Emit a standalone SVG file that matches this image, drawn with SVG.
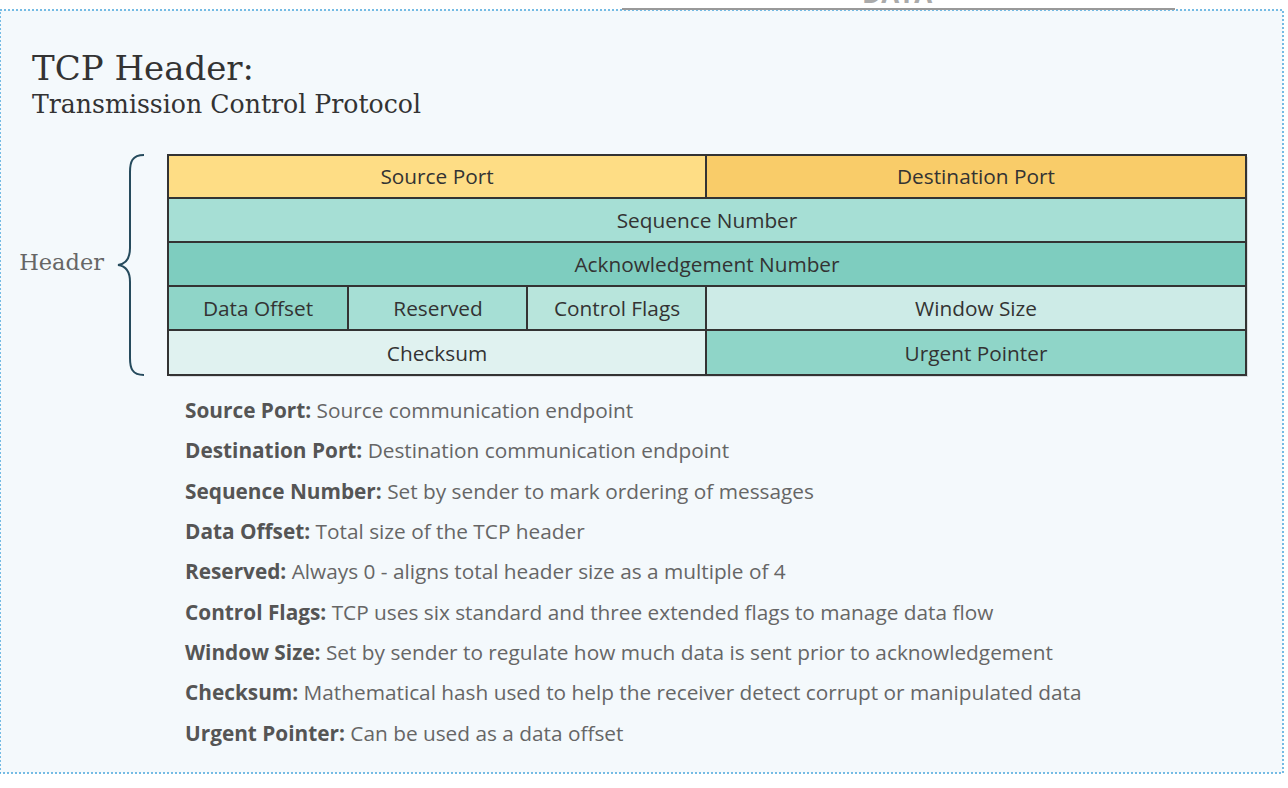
<svg xmlns="http://www.w3.org/2000/svg" width="1288" height="788" viewBox="0 0 1288 788">
<style>
.cell{stroke:#333;stroke-width:2}
.ct{font-family:"Open Sans","Noto Sans",sans-serif;font-size:20.8px;fill:#333;text-anchor:middle}
.d{font-family:"Open Sans","Noto Sans",sans-serif;font-size:20.8px;fill:#666}
.d tspan.b{font-weight:bold;fill:#555}
.serif{font-family:"DejaVu Serif","Liberation Serif",serif}
</style>
<rect width="1288" height="788" fill="#ffffff"/>
<rect x="0" y="10" width="1283" height="763" fill="#f4f9fc" stroke="#4aa6dc" stroke-width="1.5" stroke-dasharray="2 2"/>
<g id="data-top">
<text x="897" y="3" font-family="Open Sans,sans-serif" font-size="26" font-weight="bold" fill="#aaa" text-anchor="middle">DATA</text>
<line x1="622" y1="9" x2="1175" y2="9" stroke="#999" stroke-width="2"/>
</g>
<g id="title">
<text x="32" y="80" class="serif" font-size="34" fill="#333">TCP Header:</text>
<text x="32" y="113" class="serif" font-size="25.2" fill="#333">Transmission Control Protocol</text>
</g>
<g id="brace">
<path d="M144,155 C132,155 130,162 130,172 L130,248 C130,258 126,264 118,265 C126,266 130,272 130,282 L130,358 C130,368 132,375 144,375" fill="none" stroke="#264b5d" stroke-width="2"/>
<text x="104" y="270" class="serif" font-size="22.5" fill="#666" text-anchor="end">Header</text>
</g>
<g id="shadow"><rect x="170" y="157" width="1078" height="220" fill="#d8dde0"/></g>
<g id="source-port"><rect class="cell" x="168" y="155" width="538" height="43" fill="#fedd85"/><text class="ct" x="437" y="184">Source Port</text></g>
<g id="destination-port"><rect class="cell" x="706" y="155" width="540" height="43" fill="#f9cc69"/><text class="ct" x="976" y="184">Destination Port</text></g>
<g id="sequence-number"><rect class="cell" x="168" y="198" width="1078" height="44" fill="#a6dfd5"/><text class="ct" x="707" y="228">Sequence Number</text></g>
<g id="ack-number"><rect class="cell" x="168" y="242" width="1078" height="44" fill="#7ecdbf"/><text class="ct" x="707" y="272">Acknowledgement Number</text></g>
<g id="data-offset"><rect class="cell" x="168" y="286" width="180" height="44" fill="#8fd5c8"/><text class="ct" x="258" y="316">Data Offset</text></g>
<g id="reserved"><rect class="cell" x="348" y="286" width="179" height="44" fill="#a6dfd5"/><text class="ct" x="438" y="316">Reserved</text></g>
<g id="control-flags"><rect class="cell" x="527" y="286" width="179" height="44" fill="#b8e5dc"/><text class="ct" x="617" y="316">Control Flags</text></g>
<g id="window-size"><rect class="cell" x="706" y="286" width="540" height="44" fill="#cdebe7"/><text class="ct" x="976" y="316">Window Size</text></g>
<g id="checksum"><rect class="cell" x="168" y="330" width="538" height="45" fill="#e0f2f0"/><text class="ct" x="437" y="361">Checksum</text></g>
<g id="urgent-pointer"><rect class="cell" x="706" y="330" width="540" height="45" fill="#8fd5c8"/><text class="ct" x="976" y="361">Urgent Pointer</text></g>
<g id="descriptions">
<text class="d" x="185" y="418"><tspan class="b">Source Port:</tspan> Source communication endpoint</text>
<text class="d" x="185" y="458"><tspan class="b">Destination Port:</tspan> Destination communication endpoint</text>
<text class="d" x="185" y="499"><tspan class="b">Sequence Number:</tspan> Set by sender to mark ordering of messages</text>
<text class="d" x="185" y="539"><tspan class="b">Data Offset:</tspan> Total size of the TCP header</text>
<text class="d" x="185" y="579"><tspan class="b">Reserved:</tspan> Always 0 - aligns total header size as a multiple of 4</text>
<text class="d" x="185" y="620"><tspan class="b">Control Flags:</tspan> TCP uses six standard and three extended flags to manage data flow</text>
<text class="d" x="185" y="660"><tspan class="b">Window Size:</tspan> Set by sender to regulate how much data is sent prior to acknowledgement</text>
<text class="d" x="185" y="700"><tspan class="b">Checksum:</tspan> Mathematical hash used to help the receiver detect corrupt or manipulated data</text>
<text class="d" x="185" y="741"><tspan class="b">Urgent Pointer:</tspan> Can be used as a data offset</text>
</g>
</svg>
